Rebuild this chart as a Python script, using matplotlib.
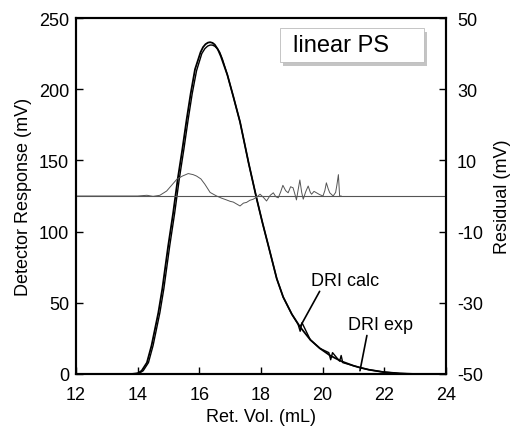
import matplotlib

matplotlib.use("Agg")
import matplotlib.pyplot as plt
from matplotlib.patches import Rectangle

# DRI calculated trace (mV) vs retention volume (mL)
calc_vol = [13.8, 14.0, 14.13, 14.3, 14.45, 14.67, 14.8, 14.99, 15.15, 15.3,
            15.45, 15.59, 15.72, 15.86, 16.04, 16.12, 16.2, 16.28, 16.35, 16.43,
            16.5, 16.6, 16.7, 16.91, 17.1, 17.32, 17.6, 17.86, 18.05, 18.24,
            18.51, 18.72, 19.0, 19.27, 19.6, 19.91, 20.24, 20.6, 21.0, 21.21,
            21.5, 21.96, 22.5, 23.0]
calc_resp = [0, 0.5, 2.3, 8, 20, 43, 60, 90, 113, 137,
             158, 179, 197, 214, 226, 229.5, 231.6, 232.7, 233, 232.5,
             231.3, 228, 223, 210, 195, 177, 148, 123, 106, 90,
             67, 54, 42, 33, 24, 18, 13, 9, 5.8, 4.5,
             3, 1.4, 0.4, 0]

# DRI experimental trace
exp_vol = [13.85, 14.05, 14.18, 14.35, 14.5, 14.72, 14.85, 15.04, 15.2, 15.35,
           15.5, 15.64, 15.77, 15.91, 16.08, 16.18, 16.27, 16.35, 16.42, 16.5,
           16.58, 16.66, 16.75, 16.91, 17.1, 17.32, 17.6, 17.86, 18.05, 18.24,
           18.51, 18.72, 19.0, 19.2, 19.27, 19.33, 19.6, 19.91, 20.2, 20.26,
           20.32, 20.55, 20.6, 20.65, 21.0, 21.21, 21.5, 21.96, 22.5, 23.0]
exp_resp = [0, 0.5, 2.3, 8, 20, 43, 60, 90, 113, 137,
            158, 179, 197, 213, 225, 228.5, 230.3, 231, 231, 230.2,
            228.5, 226, 221, 210, 195, 177, 148, 123, 106, 90,
            67, 54, 42, 35, 30, 36, 24, 18, 15, 10,
            15, 9, 13, 8, 5.8, 4.5, 3, 1.4, 0.4, 0]

# residual (mV, right axis)
res_vol = [12.0, 14.0, 14.3, 14.5, 14.72, 14.94, 15.1, 15.27, 15.45, 15.64,
           15.8, 15.91, 16.05, 16.18, 16.35, 16.56, 16.72, 16.88, 17.0, 17.1,
           17.2, 17.32, 17.43, 17.53, 17.64, 17.75, 17.86, 17.97, 18.08, 18.18,
           18.3, 18.4, 18.48, 18.56, 18.64, 18.71, 18.8, 18.88, 18.96, 19.04,
           19.1, 19.15, 19.2, 19.26, 19.32, 19.37, 19.45, 19.53, 19.6, 19.64,
           19.72, 19.8, 19.9, 20.01, 20.07, 20.12, 20.18, 20.23, 20.34, 20.42,
           20.46, 20.51, 20.55, 20.6]
res_val = [0, 0, 0.2, -0.1, 0.2, 1.4, 3.0, 4.7, 5.6, 6.3,
           6.0, 5.6, 4.8, 3.3, 1.0, 0, -0.6, -1.1, -1.5, -1.7,
           -2.2, -2.8, -2.0, -1.8, -1.2, -0.9, -0.3, 0.5, -0.4, -1.4,
           0.2, 0.9, -0.2, -0.5, 1.2, 3.0, 1.5, 0.9, 2.6, 2.3,
           0.5, -1.1, 1.5, 4.5, 1.0, -0.9, 1.2, 2.8, 1.0, 0.5,
           1.3, 0.9, 0.4, 0, 1.5, 3.7, 2.0, 0.9, 0, 1.0,
           3.0, 6.0, 0, 0]


def main():
    plt.rcParams["font.family"] = ["Liberation Sans", "DejaVu Sans"]
    plt.rcParams["font.size"] = 13
    plt.rcParams["axes.unicode_minus"] = False

    fig = plt.figure(figsize=(5.11, 4.31), dpi=100)
    ax = fig.add_axes([76 / 511, 1 - 375 / 431, 370 / 511, 356 / 431])
    ax2 = ax.twinx()

    ax.plot(calc_vol, calc_resp, color="black", linewidth=1.3)
    ax.plot(exp_vol, exp_resp, color="black", linewidth=1.0)

    ax2.axhline(0, color="#555555", linewidth=0.8)
    ax2.plot(res_vol, res_val, color="#555555", linewidth=0.7)

    ax.set_xlim(12, 24)
    ax.set_ylim(0, 250)
    ax2.set_ylim(-50, 50)
    ax.set_xticks(range(12, 25, 2))
    ax.set_yticks(range(0, 251, 50))
    ax2.set_yticks([-50, -30, -10, 10, 30, 50])

    ax.tick_params(axis="x", direction="in", length=5, width=1, top=False, pad=9)
    ax.tick_params(axis="y", direction="in", length=5, width=1, right=False, pad=5)
    ax2.tick_params(axis="y", direction="in", length=5, width=1, pad=8)
    for a in (ax, ax2):
        for sp in a.spines.values():
            sp.set_linewidth(1.5)

    ax.set_xlabel("Ret. Vol. (mL)", labelpad=3)
    ax.set_ylabel("Detector Response (mV)", labelpad=5)
    ax2.set_ylabel("Residual (mV)", labelpad=8)

    ax.annotate("DRI calc", xy=(19.29, 34), xytext=(19.62, 60),
                arrowprops=dict(arrowstyle="-", color="black", linewidth=1.2,
                                shrinkA=0, shrinkB=0, relpos=(0.15, 0)),
                ha="left", va="bottom")
    ax.annotate("DRI exp", xy=(21.21, 2.3), xytext=(20.82, 29),
                arrowprops=dict(arrowstyle="-", color="black", linewidth=1.2,
                                shrinkA=0, shrinkB=0, relpos=(0.3, 0)),
                ha="left", va="bottom")

    # legend-like box with shadow
    box_x0 = 12 + (280 - 76) / 370 * 12
    box_x1 = 12 + (424 - 76) / 370 * 12
    box_y1 = (375 - 29) / 356 * 250
    box_y0 = (375 - 63) / 356 * 250
    ax.add_patch(Rectangle((box_x0 + 0.1, box_y0 - 2.5), box_x1 - box_x0, box_y1 - box_y0,
                           facecolor="#c4c4c4", edgecolor="none", zorder=4))
    ax.add_patch(Rectangle((box_x0, box_y0), box_x1 - box_x0, box_y1 - box_y0,
                           facecolor="white", edgecolor="#bbbbbb", linewidth=0.6, zorder=5))
    ax.text(box_x0 + 0.42, (box_y0 + box_y1) / 2, "linear PS",
            fontsize=17, ha="left", va="center", zorder=6)

    fig.savefig("out.png", dpi=100)
    plt.close(fig)


if __name__ == "__main__":
    main()
